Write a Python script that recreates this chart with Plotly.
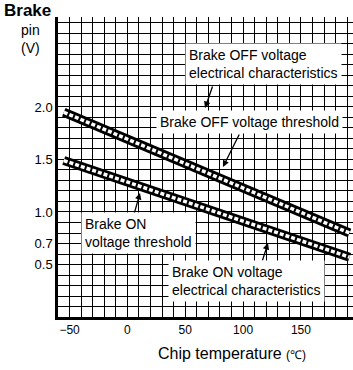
import plotly.graph_objects as go

# ---- data ----
temps = [-55, 192]                      # chip temperature (°C), band end points
off_threshold = [1.95, 0.80]            # Brake OFF voltage threshold band (V)
on_threshold = [1.49, 0.57]             # Brake ON voltage threshold band (V)

x_ticks = [-50, 0, 50, 100, 150]
x_tick_text = ["−50", "0", "50", "100", "150"]
y_ticks = [0.5, 0.7, 1.0, 1.5, 2.0]
y_tick_text = ["0.5", "0.7", "1.0", "1.5", "2.0"]

FONT = "Liberation Sans, Arial, sans-serif"

fig = go.Figure()

for ys in (off_threshold, on_threshold):
    fig.add_trace(go.Scatter(x=temps, y=ys, mode="lines",
                             line=dict(color="black", width=9),
                             hoverinfo="skip", showlegend=False))
    fig.add_trace(go.Scatter(x=temps, y=ys, mode="lines",
                             line=dict(color="white", width=3.5, dash="4px,2px"),
                             hoverinfo="skip", showlegend=False))

# arrows (tail -> head, data coordinates)
arrows = [
    ((74.0, 2.21), (67.1, 1.99)),
    ((97.3, 1.752), (82.6, 1.429)),
    ((4.8, 0.943), (10.9, 1.181)),
    ((116.3, 0.524), (121.5, 0.705)),
]
annotations = []
for (tx, ty), (hx, hy) in arrows:
    annotations.append(dict(x=hx, y=hy, ax=tx, ay=ty, xref="x", yref="y",
                            axref="x", ayref="y", text="", showarrow=True,
                            arrowhead=2, arrowsize=1, arrowwidth=1.3,
                            arrowcolor="black"))

labels = [
    (49.5, 2.41, "Brake OFF voltage<br>electrical characteristics"),
    (24.5, 1.857, "Brake OFF voltage threshold"),
    (-40.0, 0.80, "Brake ON<br>voltage threshold"),
    (35.0, 0.343, "Brake ON voltage<br>electrical characteristics"),
]
for x, y, t in labels:
    annotations.append(dict(x=x, y=y, xref="x", yref="y", text=t,
                            showarrow=False, xanchor="left", yanchor="middle",
                            align="left", bgcolor="white", borderpad=3,
                            font=dict(family=FONT, size=14, color="black")))

annotations.append(dict(x=0.59, y=-0.12, xref="paper", yref="paper",
                        text="Chip temperature <span style='font-size:12px'>(℃)</span>",
                        showarrow=False, xanchor="center", yanchor="middle",
                        font=dict(family=FONT, size=16, color="black")))

# y-axis title, stacked above the axis
annotations.append(dict(x=-0.1017, y=1.0233, xref="paper", yref="paper",
                        text="<b>Brake</b>", showarrow=False,
                        xanchor="center", yanchor="middle",
                        font=dict(family=FONT, size=17, color="black")))
annotations.append(dict(x=-0.0949, y=0.9267, xref="paper", yref="paper",
                        text="pin<br>(V)", showarrow=False, align="center",
                        xanchor="center", yanchor="middle",
                        font=dict(family=FONT, size=14, color="black")))

fig.update_layout(
    width=353, height=370,
    margin=dict(l=58, r=0, t=17, b=53, autoexpand=False),
    plot_bgcolor="white", paper_bgcolor="white",
    annotations=annotations,
    font=dict(family=FONT, color="black"),
)
fig.update_xaxes(range=[-60, 195], tickmode="array", tickvals=x_ticks,
                 ticktext=x_tick_text, ticks="", showgrid=True,
                 automargin=False,
                 gridcolor="black", gridwidth=1.3,
                 minor=dict(tick0=-50, dtick=10, showgrid=True,
                            gridcolor="black", gridwidth=1.3),
                 showline=True, linecolor="black", linewidth=2.5,
                 zeroline=False, tickfont=dict(size=12, family=FONT))
fig.update_yaxes(range=[0, 2.857], tickmode="array", tickvals=y_ticks,
                 ticktext=y_tick_text, ticks="", showgrid=True,
                 automargin=False,
                 gridcolor="black", gridwidth=1.3,
                 minor=dict(tick0=0, dtick=0.1, showgrid=True,
                            gridcolor="black", gridwidth=1.3),
                 showline=True, linecolor="black", linewidth=2.5,
                 mirror=False, zeroline=False,
                 tickfont=dict(size=13, family=FONT))

# remove the browser's default 8px page margin so the figure fills the window
fig.write_html("out.html", config={"displayModeBar": False},
               post_script="document.body.style.margin='0';")
